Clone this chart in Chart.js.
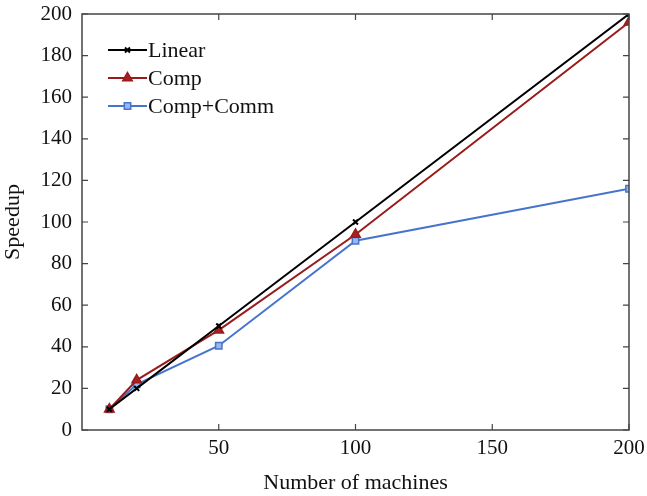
<!DOCTYPE html>
<html lang="en">
<head>
  <meta charset="utf-8" />
  <title>Speedup</title>
  <script src="https://cdn.jsdelivr.net/npm/chart.js"></script>
  <style>
    html, body { margin: 0; padding: 0; background: #fff; }
    #wrap { width: 647px; height: 496px; }
  </style>
</head>
<body>
  <div id="wrap"><canvas id="speedChart"></canvas></div>

  <script>
    const machines = [10, 20, 50, 100, 200];
    const linear = [10, 20, 50, 100, 200];
    const comp = [10, 24, 48, 94, 196];
    const compComm = [10, 22, 40.5, 91, 116];

    const xTicks = [50, 100, 150, 200];

    const font = "'Liberation Serif', 'Times New Roman', serif";
    const axisColor = '#444';

    function pts(ys) {
      return machines.map((x, i) => ({ x: x, y: ys[i] }));
    }

    // frame box + inward tick marks on all four sides
    const framePlugin = {
      id: 'frame',
      afterDraw(chart) {
        const { ctx, chartArea: a, scales } = chart;
        ctx.save();
        ctx.strokeStyle = axisColor;
        ctx.lineWidth = 1.5;
        ctx.strokeRect(a.left, a.top, a.right - a.left, a.bottom - a.top);
        ctx.lineWidth = 1.2;
        ctx.beginPath();
        scales.x.ticks.forEach(t => {
          const px = scales.x.getPixelForValue(t.value);
          ctx.moveTo(px, a.bottom); ctx.lineTo(px, a.bottom - 6);
          ctx.moveTo(px, a.top); ctx.lineTo(px, a.top + 6);
        });
        scales.y.ticks.forEach(t => {
          const py = scales.y.getPixelForValue(t.value);
          ctx.moveTo(a.left, py); ctx.lineTo(a.left + 6, py);
          ctx.moveTo(a.right, py); ctx.lineTo(a.right - 6, py);
        });
        ctx.stroke();
        ctx.restore();
      }
    };

    // legend drawn inside the plot, line + marker like the original
    const legendPlugin = {
      id: 'innerLegend',
      afterDraw(chart) {
        const { ctx, chartArea: a } = chart;
        const x0 = a.left + 26, x1 = a.left + 65;
        const rows = [a.top + 36, a.top + 64, a.top + 92];
        ctx.save();
        chart.data.datasets.forEach((ds, i) => {
          const y = rows[i];
          ctx.strokeStyle = ds.borderColor;
          ctx.lineWidth = 2;
          ctx.beginPath();
          ctx.moveTo(x0, y); ctx.lineTo(x1, y);
          ctx.stroke();
          ctx.fillStyle = ds.pointBackgroundColor;
          ctx.strokeStyle = ds.pointBorderColor;
          ctx.lineWidth = ds.pointBorderWidth || 1.5;
          Chart.helpers.drawPoint(ctx, {
            pointStyle: ds.pointStyle,
            radius: ds.pointRadius,
            borderWidth: ds.pointBorderWidth || 1.5
          }, (x0 + x1) / 2, y);
          ctx.fillStyle = '#111';
          ctx.font = '22px ' + font;
          ctx.textBaseline = 'middle';
          ctx.fillText(ds.label, x1 + 1, y + 1);
        });
        ctx.restore();
      }
    };

    new Chart(document.getElementById('speedChart'), {
      type: 'line',
      data: {
        datasets: [
          {
            label: 'Linear',
            data: pts(linear),
            borderColor: '#000',
            borderWidth: 2,
            pointStyle: 'crossRot',
            pointRadius: 3.5,
            pointBorderWidth: 2,
            pointBorderColor: '#000',
            pointBackgroundColor: '#000'
          },
          {
            label: 'Comp',
            data: pts(comp),
            borderColor: '#9a1b1b',
            borderWidth: 2,
            pointStyle: 'triangle',
            pointRadius: 5.5,
            pointBorderWidth: 1.5,
            pointBorderColor: '#9a1b1b',
            pointBackgroundColor: '#a52020'
          },
          {
            label: 'Comp+Comm',
            data: pts(compComm),
            borderColor: '#4674cc',
            borderWidth: 2,
            pointStyle: 'rect',
            pointRadius: 4.5,
            pointBorderWidth: 1.5,
            pointBorderColor: '#4674cc',
            pointBackgroundColor: '#9bb6ea'
          }
        ]
      },
      options: {
        responsive: true,
        maintainAspectRatio: false,
        animation: false,
        layout: { padding: { top: 14, right: 18, left: 0, bottom: 0 } },
        plugins: {
          legend: { display: false },
          tooltip: { enabled: false }
        },
        scales: {
          x: {
            type: 'linear',
            min: 0,
            max: 200,
            afterBuildTicks(scale) {
              scale.ticks = xTicks.map(v => ({ value: v }));
            },
            afterFit(scale) {
              scale.height = 66;
              scale.paddingLeft = 0;
              scale.paddingRight = 0;
            },
            grid: { display: false, drawTicks: false },
            border: { display: false },
            ticks: {
              color: '#111',
              font: { family: font, size: 21 },
              padding: 6
            },
            title: {
              display: true,
              text: 'Number of machines',
              color: '#111',
              font: { family: font, size: 22 },
              padding: { top: 0, bottom: 0 }
            }
          },
          y: {
            min: 0,
            max: 200,
            afterFit(scale) {
              scale.width = 82;
              scale.paddingTop = 0;
              scale.paddingBottom = 0;
            },
            grid: { display: false, drawTicks: false },
            border: { display: false },
            ticks: {
              stepSize: 20,
              color: '#111',
              font: { family: font, size: 21 },
              padding: 10
            },
            title: {
              display: true,
              text: 'Speedup',
              color: '#111',
              font: { family: font, size: 22 },
              padding: { top: 0, bottom: 4 }
            }
          }
        }
      },
      plugins: [framePlugin, legendPlugin]
    });
  </script>
</body>
</html>
